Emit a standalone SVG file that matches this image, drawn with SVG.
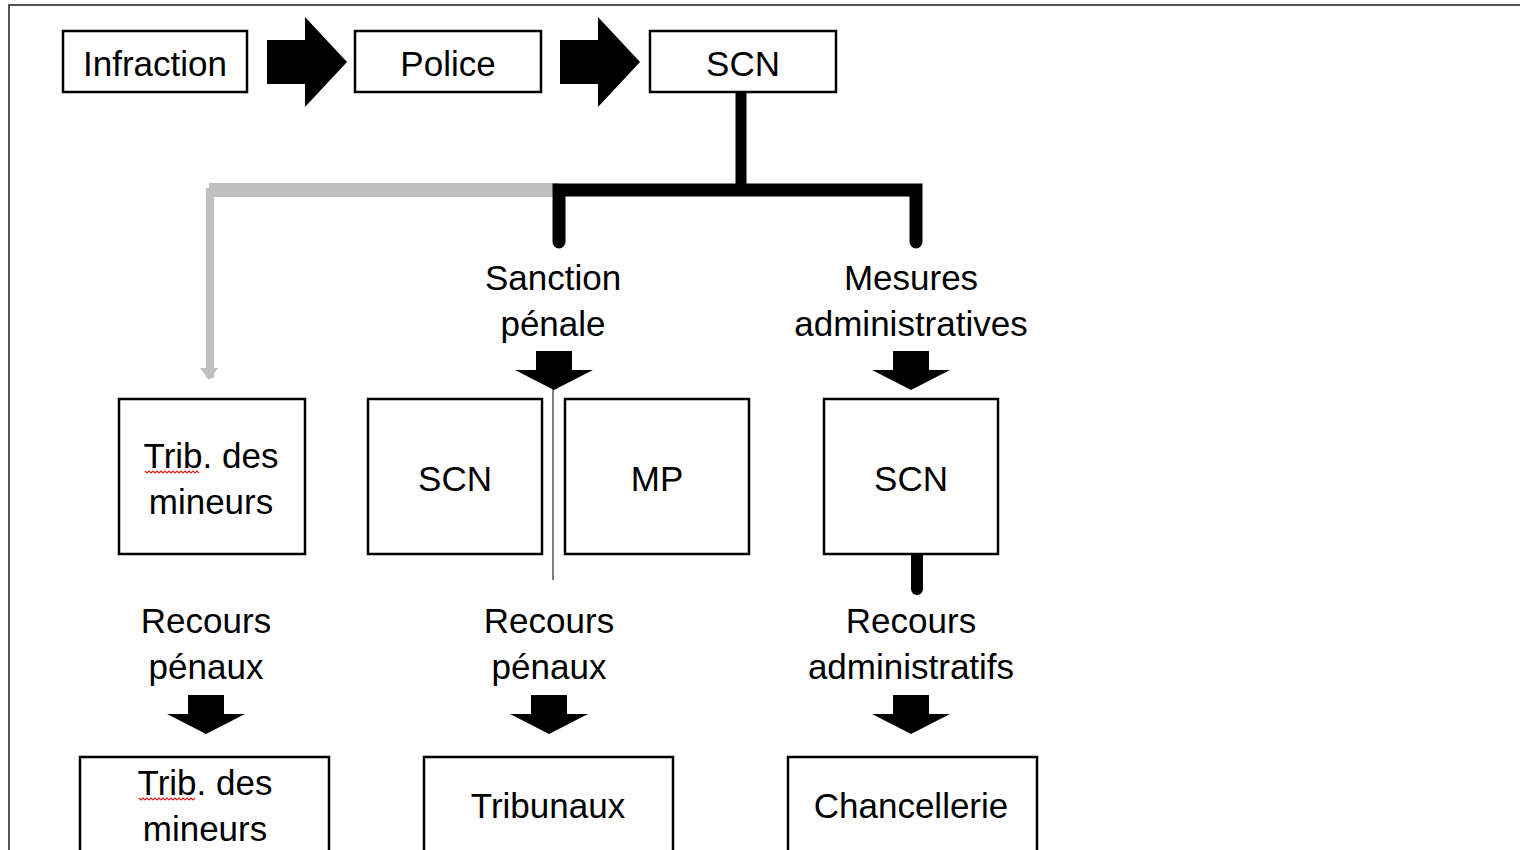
<svg xmlns="http://www.w3.org/2000/svg" width="1520" height="850" viewBox="0 0 1520 850">
<style>
.box{fill:#fff;stroke:#000;stroke-width:2.5}
.t{font-family:"Liberation Sans",Arial,sans-serif;font-size:35px;fill:#000;text-anchor:middle}
.blk{fill:#000}
.wavy{fill:none;stroke:#e02020;stroke-width:1.2}
</style>
<defs>
<path id="down" d="M-18,0 H18 V19 H39 L0,39 L-39,19 H-18 Z"/>
<path id="right" d="M0,20 H38 V-45 L80,0 L38,45 V66 H0 Z" transform="translate(0,0)"/>
</defs>
<rect width="1520" height="850" fill="#fff"/>
<path d="M9,850 V5 H1520" fill="none" stroke="#555" stroke-width="2"/>

<g id="connectors">
  <!-- top block arrows -->
  <path class="blk" d="M267,40 H305 V17 L347,62 L305,107 V84 H267 Z"/>
  <path class="blk" d="M560,40 H598 V17 L640,62 L598,107 V84 H560 Z"/>
  <!-- tree from SCN -->
  <path d="M210,378 V192 H559" fill="none" stroke="#c0c0c0" stroke-width="8"/>
  <path d="M209,190 H559" fill="none" stroke="#c0c0c0" stroke-width="14"/>
  <path d="M200,368 L218,368 L209,380 Z" fill="#c0c0c0"/>
  <path d="M741,92 V190" fill="none" stroke="#000" stroke-width="11"/>
  <path d="M559,242 V190 H916 V242" fill="none" stroke="#000" stroke-width="13" stroke-linejoin="miter" stroke-linecap="round"/>
  <!-- thin gray line -->
  <path d="M553,388 V580" fill="none" stroke="#808080" stroke-width="2"/>
  <!-- down arrows -->
  <use href="#down" x="554" y="351"/>
  <use href="#down" x="911" y="351"/>
  <path d="M917,554 V589" fill="none" stroke="#000" stroke-width="12" stroke-linecap="round"/>
  <use href="#down" x="206" y="695"/>
  <use href="#down" x="549" y="695"/>
  <use href="#down" x="911" y="695"/>
</g>

<g id="n-infraction"><rect class="box" x="63" y="31" width="184" height="61"/><text class="t" x="155" y="76">Infraction</text></g>
<g id="n-police"><rect class="box" x="355" y="31" width="186" height="61"/><text class="t" x="448" y="76">Police</text></g>
<g id="n-scn-top"><rect class="box" x="650" y="31" width="186" height="61"/><text class="t" x="743" y="76">SCN</text></g>

<g id="n-sanction"><text class="t" x="553" y="290">Sanction</text><text class="t" x="553" y="336">pénale</text></g>
<g id="n-mesures"><text class="t" x="911" y="290">Mesures</text><text class="t" x="911" y="336">administratives</text></g>

<g id="n-trib1"><rect class="box" x="119" y="399" width="186" height="155"/>
<text class="t" x="211" y="468">Trib. des</text><text class="t" x="211" y="514">mineurs</text>
<path class="wavy" d="M145,471 l2,2 l2,-2 l2,2 l2,-2 l2,2 l2,-2 l2,2 l2,-2 l2,2 l2,-2 l2,2 l2,-2 l2,2 l2,-2 l2,2 l2,-2 l2,2 l2,-2 l2,2 l2,-2 l2,2 l2,-2 l2,2 l2,-2 l2,2 l2,-2 l2,2"/>
</g>
<g id="n-scn-left"><rect class="box" x="368" y="399" width="174" height="155"/><text class="t" x="455" y="491">SCN</text></g>
<g id="n-mp"><rect class="box" x="565" y="399" width="184" height="155"/><text class="t" x="657" y="491">MP</text></g>
<g id="n-scn-right"><rect class="box" x="824" y="399" width="174" height="155"/><text class="t" x="911" y="491">SCN</text></g>

<g id="n-recours1"><text class="t" x="206" y="633">Recours</text><text class="t" x="206" y="679">pénaux</text></g>
<g id="n-recours2"><text class="t" x="549" y="633">Recours</text><text class="t" x="549" y="679">pénaux</text></g>
<g id="n-recours3"><text class="t" x="911" y="633">Recours</text><text class="t" x="911" y="679">administratifs</text></g>

<g id="n-trib2"><rect class="box" x="80" y="757" width="249" height="110"/>
<text class="t" x="205" y="795">Trib. des</text><text class="t" x="205" y="841">mineurs</text>
<path class="wavy" d="M139,798 l2,2 l2,-2 l2,2 l2,-2 l2,2 l2,-2 l2,2 l2,-2 l2,2 l2,-2 l2,2 l2,-2 l2,2 l2,-2 l2,2 l2,-2 l2,2 l2,-2 l2,2 l2,-2 l2,2 l2,-2 l2,2 l2,-2 l2,2 l2,-2 l2,2 l2,-2"/>
</g>
<g id="n-tribunaux"><rect class="box" x="424" y="757" width="249" height="110"/><text class="t" x="548" y="818">Tribunaux</text></g>
<g id="n-chancellerie"><rect class="box" x="788" y="757" width="249" height="110"/><text class="t" x="911" y="818">Chancellerie</text></g>
</svg>
